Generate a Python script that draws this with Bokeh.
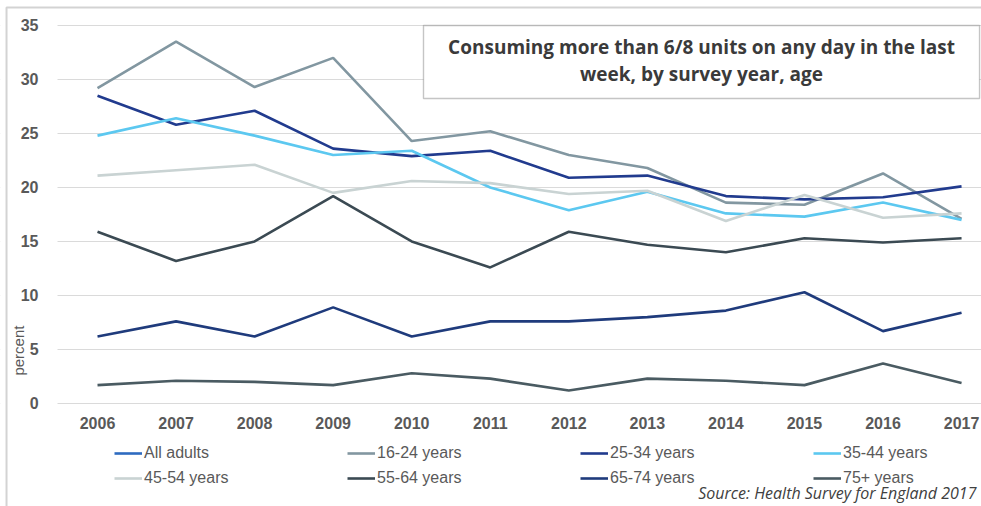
import math
from bokeh.plotting import figure
from bokeh.models import (Range1d, FixedTicker, Legend, LegendItem, Label,
                          BoxAnnotation, ColumnDataSource, LinearAxis)
from bokeh.embed import file_html
from bokeh.resources import INLINE

NaN = float("nan")

# ---- data ----
years = [2006, 2007, 2008, 2009, 2010, 2011, 2012, 2013, 2014, 2015, 2016, 2017]
# "All adults" appears in the legend only; the source chart draws no line for it
all_adults = [NaN, NaN, NaN, NaN, NaN, NaN, NaN, NaN, NaN, NaN, NaN, NaN]
age_16_24 = [29.2, 33.5, 29.3, 32.0, 24.3, 25.2, 23.0, 21.8, 18.6, 18.4, 21.3, 17.1]
age_25_34 = [28.5, 25.8, 27.1, 23.6, 22.9, 23.4, 20.9, 21.1, 19.2, 18.9, 19.1, 20.1]
age_35_44 = [24.8, 26.4, 24.8, 23.0, 23.4, 20.0, 17.9, 19.6, 17.6, 17.3, 18.6, 17.0]
age_45_54 = [21.1, 21.6, 22.1, 19.5, 20.6, 20.4, 19.4, 19.7, 16.9, 19.3, 17.2, 17.6]
age_55_64 = [15.9, 13.2, 15.0, 19.2, 15.0, 12.6, 15.9, 14.7, 14.0, 15.3, 14.9, 15.3]
age_65_74 = [6.2, 7.6, 6.2, 8.9, 6.2, 7.6, 7.6, 8.0, 8.6, 10.3, 6.7, 8.4]
age_75_plus = [1.7, 2.1, 2.0, 1.7, 2.8, 2.3, 1.2, 2.3, 2.1, 1.7, 3.7, 1.9]
y_ticks = [0, 5, 10, 15, 20, 25, 30, 35]

series_names = ["All adults", "16-24 years", "25-34 years", "35-44 years",
                "45-54 years", "55-64 years", "65-74 years", "75+ years"]
series_values = [all_adults, age_16_24, age_25_34, age_35_44,
                 age_45_54, age_55_64, age_65_74, age_75_plus]
series_colors = ["#2e6bc0", "#8297a1", "#213b8e", "#5cc8f0",
                 "#c9d3d3", "#3b4a53", "#1f3b7c", "#4a5b62"]

title_text = "Consuming more than 6/8 units on any day in the last\nweek, by survey year, age"
source_text = "Source: Health Survey for England 2017"

GREY = "#595959"

# frame covers the whole canvas; axes are pinned inside it
X0, X1 = 2004.765, 2017.254
Y0, Y1 = -9.537, 37.31
Y_AXIS_AT = 2005.491

p = figure(width=981, height=506, output_backend="svg", toolbar_location=None,
           x_range=Range1d(X0, X1), y_range=Range1d(Y0, Y1),
           x_axis_location=None, y_axis_location=None,
           min_border=0, min_border_left=0, min_border_right=0,
           min_border_top=0, min_border_bottom=0)
p.outline_line_color = None
p.background_fill_color = "white"
p.border_fill_color = "white"

xaxis = LinearAxis(ticker=FixedTicker(ticks=years), fixed_location=0)
yaxis = LinearAxis(ticker=FixedTicker(ticks=y_ticks), fixed_location=Y_AXIS_AT)
p.add_layout(xaxis, "below")
p.add_layout(yaxis, "left")
for ax in (xaxis, yaxis):
    ax.axis_line_color = None
    ax.major_tick_line_color = None
    ax.minor_tick_line_color = None
    ax.major_label_text_font = "Liberation Sans"
    ax.major_label_text_font_style = "bold"
    ax.major_label_text_font_size = "16px"
    ax.major_label_text_color = GREY
xaxis.major_label_standoff = 8
yaxis.major_label_standoff = 13

# grid (horizontal only)
p.xgrid.grid_line_color = None
p.ygrid.ticker = yaxis.ticker
p.ygrid.grid_line_color = "#dadada"
p.ygrid.grid_line_width = 1.2

# white mask left of the plot area so the grid starts at the axis
mask = BoxAnnotation(right=Y_AXIS_AT, fill_color="white", fill_alpha=1.0,
                     line_color=None, level="underlay")
p.add_layout(mask)

# outer frame of the chart (left and top edges)
frame_box = BoxAnnotation(left=2004.8415, top=36.667, right=X1 + 1, bottom=Y0 - 1,
                          fill_alpha=0, line_color="#6e6e6e", line_width=2,
                          level="underlay")
p.add_layout(frame_box)

# lines
items = []
for name, vals, col in zip(series_names, series_values, series_colors):
    src = ColumnDataSource(dict(x=years, y=vals))
    r = p.line("x", "y", source=src, line_color=col, line_width=2.6)
    items.append(LegendItem(label=name, renderers=[r], index=0))

# title box
box = BoxAnnotation(left=2010.15, right=2017.229, top=35, bottom=28.24,
                    fill_color="white", fill_alpha=1.0,
                    line_color="#404040", line_width=1.4)
p.add_layout(box)
lbl = Label(x=2013.69, y=31.75, text=title_text, text_align="center",
            text_baseline="middle", text_font="Open Sans",
            text_font_style="bold", text_font_size="19px", text_color="#3a3a3a",
            text_line_height=1.05)
p.add_layout(lbl)

# y label
ylab = Label(x=2004.994, y=4.9, text="percent", angle=math.pi / 2,
             text_align="center", text_baseline="middle",
             text_font="Liberation Sans", text_font_size="15px",
             text_color=GREY)
p.add_layout(ylab)

# source
src_lbl = Label(x=2017.19, y=-9.3, text=source_text, text_align="right",
                text_baseline="bottom", text_font="Open Sans",
                text_font_style="italic", text_font_size="16px",
                text_color="#404040")
p.add_layout(src_lbl)

legend = Legend(items=items, ncols=4, orientation="horizontal",
                location=(114, 18), margin=0, padding=0,
                glyph_width=28, glyph_height=20, label_standoff=2,
                label_width=198, label_height=20, spacing=5,
                label_text_font="Liberation Sans",
                label_text_font_size="16px", label_text_color=GREY,
                border_line_color=None, background_fill_alpha=0)
p.add_layout(legend)

open("out.html", "w").write(file_html(p, INLINE))
